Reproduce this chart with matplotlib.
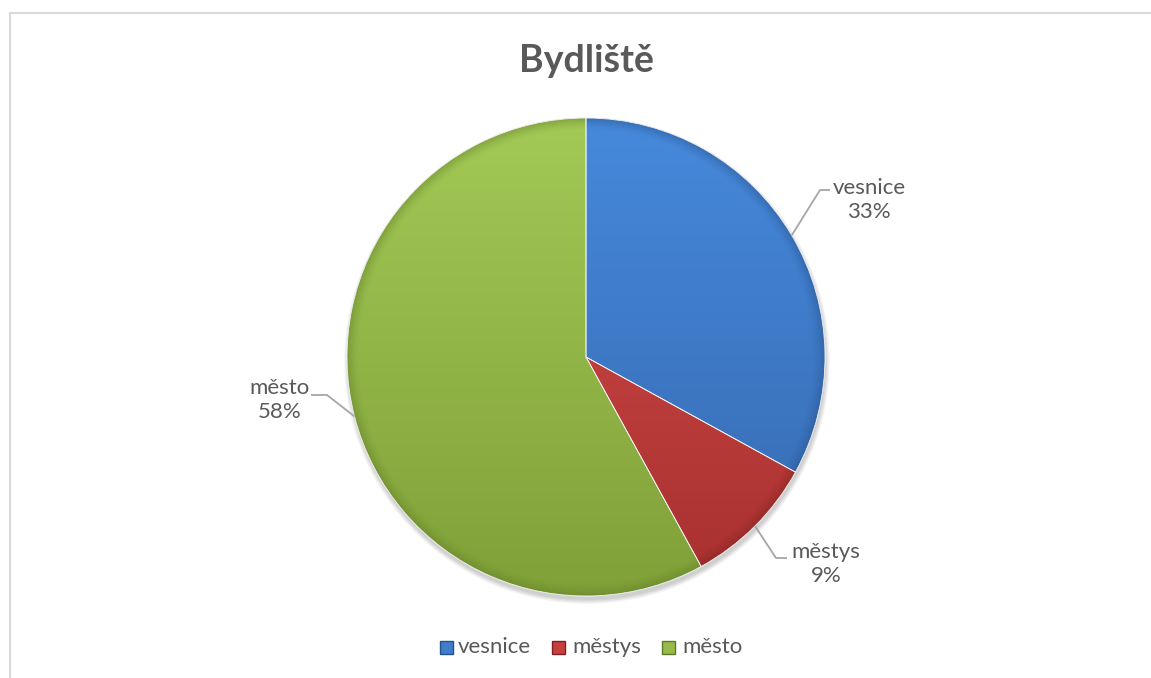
import numpy as np
import matplotlib
matplotlib.use("Agg")
import matplotlib.pyplot as plt
from matplotlib.patches import Rectangle, Circle, Wedge
from matplotlib.colors import LinearSegmentedColormap

# ---- data ----
title = "Bydliště"
categories = ["vesnice", "městys", "město"]
shares = [33, 9, 58]
colors = ["#3F7ECC", "#C8403E", "#97BA48"]
top_colors = ["#4689DB", "#D84D4A", "#A3C956"]
bottom_colors = ["#3669B0", "#A6302F", "#80A038"]
edge_colors = ["#284F86", "#7A2221", "#5E7A28"]

# ---- layout (pixel space, y up) ----
W, H = 1151, 678
plt.rcParams['font.family'] = ['Lato', 'DejaVu Sans']
text_col = "#595959"

fig = plt.figure(figsize=(W / 100, H / 100), dpi=100)
ax = fig.add_axes([0, 0, 1, 1])

cx, cy, R = 586, H - 357, 239

# soft drop shadow
for k in range(8):
    ax.add_patch(Circle((cx + 1, cy - 4), R + 4 - k * 0.6, facecolor="#000000",
                        edgecolor='none', alpha=0.025, zorder=0))

wedges, _ = ax.pie(shares, colors=colors, startangle=90, counterclock=False,
                   center=(cx, cy), radius=R, frame=True,
                   wedgeprops=dict(linewidth=0.6, edgecolor="#F0F0F0"))
ax.set_xlim(0, W)
ax.set_ylim(0, H)
ax.set_aspect('equal')
ax.axis('off')

# frame (top + left visible)
ax.plot([10.5, 10.5, W + 5], [-5, H - 12.5, H - 12.5], color="#D9D9D9", lw=1.5)

# vertical gradient fill clipped to each wedge + rim shading
grad = np.linspace(0, 1, 256).reshape(-1, 1)
for w, tc, bc, ec in zip(wedges, top_colors, bottom_colors, edge_colors):
    cmap = LinearSegmentedColormap.from_list("g", [tc, bc])
    im = ax.imshow(grad, cmap=cmap, aspect='auto', origin='upper',
                   extent=(cx - R, cx + R, cy - R, cy + R), zorder=w.get_zorder() + 0.1)
    im.set_clip_path(w)
    for k in range(12):
        rr = R * (1 - k * 0.004)
        sh = Wedge((cx, cy), rr, w.theta1, w.theta2, width=R * 0.004,
                   facecolor=ec, edgecolor='none', alpha=0.45 * (1 - k / 12) ** 1.5,
                   zorder=w.get_zorder() + 0.2)
        ax.add_patch(sh)
    ax.add_patch(Wedge((cx, cy), R, w.theta1, w.theta2, facecolor='none',
                       edgecolor="#F2F2F2", lw=0.6, zorder=w.get_zorder() + 0.3))

# labels with leader lines
label_pos = {  # text centre (x, y-down), elbow (x, y-down), line end x
    "vesnice": ((869, 200), (820, 190), 830),
    "městys": ((826, 564), (776, 558), 787),
    "město": ((280, 400), (327, 395), 311),
}
for w, cat, sh in zip(wedges, categories, shares):
    ang = np.deg2rad((w.theta1 + w.theta2) / 2)
    px, py = cx + R * np.cos(ang), cy + R * np.sin(ang)
    (tx, ty), (ex, ey), lx = label_pos[cat]
    ax.plot([px, ex, lx], [py, H - ey, H - ey], color="#A6A6A6", lw=1.3,
            solid_capstyle='butt', zorder=5)
    ax.text(tx, H - ty, f"{cat}\n{sh}%", ha='center', va='center',
            fontsize=16, color=text_col, linespacing=1.2)

ax.text(586, H - 61, title, ha='center', va='center', fontsize=27,
        fontweight='bold', color=text_col)

# legend
leg_items = [(440, 458), (552, 572), (662, 682)]
for (sx, tx), cat, c, ec in zip(leg_items, categories, colors, edge_colors):
    ax.add_patch(Rectangle((sx, H - 654), 13, 13, facecolor=c, edgecolor=ec, lw=1))
    ax.text(tx, H - 647, cat, ha='left', va='center', fontsize=16, color=text_col)

fig.savefig("out.png", dpi=100)
